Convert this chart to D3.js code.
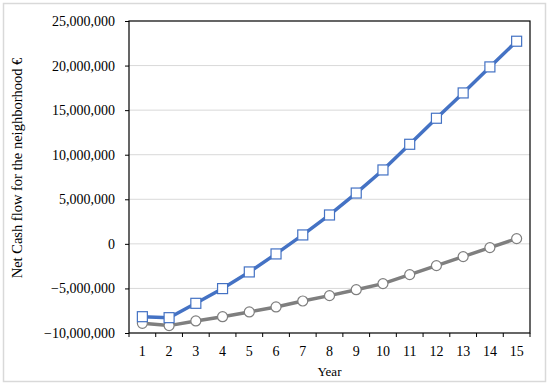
<!DOCTYPE html>
<html>
<head>
<meta charset="utf-8">
<script src="https://cdn.jsdelivr.net/npm/d3@7"></script>
<style>
  body { margin: 0; background: #fff; }
  text { font-family: "Liberation Serif", "DejaVu Serif", serif; fill: #000; }
</style>
</head>
<body>
<svg width="550" height="387"></svg>
<script>
let years = [1, 2, 3, 4, 5, 6, 7, 8, 9, 10, 11, 12, 13, 14, 15];
let blueSeries = [-8.17, -8.28, -6.67, -5.02, -3.15, -1.13, 1.0, 3.24, 5.7, 8.29, 11.17, 14.09, 16.93, 19.85, 22.73].map(v => v * 1e6);
let graySeries = [-8.91, -9.17, -8.65, -8.17, -7.64, -7.08, -6.41, -5.81, -5.14, -4.46, -3.45, -2.44, -1.43, -0.42, 0.59].map(v => v * 1e6);
let yTicks = [-10e6, -5e6, 0, 5e6, 10e6, 15e6, 20e6, 25e6];

let svg = d3.select("svg"),
    width = +svg.attr("width"),
    height = +svg.attr("height");

// outer frame
svg.append("rect")
  .attr("x", 3.5).attr("y", 3.5)
  .attr("width", 542).attr("height", 378)
  .attr("fill", "none")
  .attr("stroke", "#d9d9d9")
  .attr("stroke-width", 1.5);

const mLeft = 129, mRight = 530, mTop = 21, mBottom = 333;

let x = d3.scaleBand().domain(years).range([mLeft, mRight]);
let y = d3.scaleLinear().domain([-10e6, 25e6]).range([mBottom, mTop]);

// gridlines
svg.append("g")
  .selectAll("line")
  .data(yTicks.slice(1, -1))
  .enter().append("line")
  .attr("x1", mLeft).attr("x2", mRight)
  .attr("y1", d => y(d)).attr("y2", d => y(d))
  .style("stroke", "#d9d9d9")
  .style("stroke-width", 1);

// y axis
let yAxis = svg.append("g")
  .attr("transform", `translate(${mLeft},0)`)
  .call(d3.axisLeft(y).tickValues(yTicks).tickSize(4).tickPadding(10)
    .tickFormat(d3.format(",")));
yAxis.select(".domain").remove();
yAxis.selectAll(".tick line").style("stroke", "#000");
yAxis.selectAll("text").style("font-size", "14px");

// x axis: ticks on band boundaries
let xAxis = svg.append("g")
  .attr("transform", `translate(0,${mBottom})`)
  .call(d3.axisBottom(x).tickSize(0).tickPadding(13));
xAxis.select(".domain").remove();
xAxis.selectAll("text").style("font-size", "14px");
svg.append("g")
  .selectAll("line")
  .data(years.concat([16]))
  .enter().append("line")
  .attr("x1", (d, i) => mLeft + i * x.step())
  .attr("x2", (d, i) => mLeft + i * x.step())
  .attr("y1", mBottom).attr("y2", mBottom + 4)
  .style("stroke", "#000");

// plot box
svg.append("rect")
  .attr("x", mLeft).attr("y", mTop)
  .attr("width", mRight - mLeft).attr("height", mBottom - mTop)
  .attr("fill", "none")
  .attr("stroke", "#000")
  .attr("stroke-width", 1.2);

let cx = d => x(d) + x.bandwidth() / 2;

let line = d3.line()
  .x((d, i) => cx(years[i]))
  .y(d => y(d));

svg.append("path")
  .datum(graySeries)
  .attr("d", line)
  .attr("fill", "none")
  .attr("stroke", "#7f7f7f")
  .attr("stroke-width", 3.5);

svg.append("path")
  .datum(blueSeries)
  .attr("d", line)
  .attr("fill", "none")
  .attr("stroke", "#4472c4")
  .attr("stroke-width", 3.5);

svg.append("g")
  .selectAll("circle")
  .data(graySeries)
  .enter().append("circle")
  .attr("cx", (d, i) => cx(years[i]))
  .attr("cy", d => y(d))
  .attr("r", 5)
  .attr("fill", "#fff")
  .attr("stroke", "#7f7f7f")
  .attr("stroke-width", 1.2);

const S = 10;
svg.append("g")
  .selectAll("rect")
  .data(blueSeries)
  .enter().append("rect")
  .attr("x", (d, i) => cx(years[i]) - S / 2)
  .attr("y", d => y(d) - S / 2)
  .attr("width", S).attr("height", S)
  .attr("fill", "#fff")
  .attr("stroke", "#4472c4")
  .attr("stroke-width", 1.2);

// axis titles
svg.append("text")
  .attr("x", (mLeft + mRight) / 2)
  .attr("y", 376)
  .attr("text-anchor", "middle")
  .style("font-size", "13px")
  .text("Year");

svg.append("text")
  .attr("transform", `translate(22,168) rotate(-90)`)
  .attr("text-anchor", "middle")
  .style("font-size", "14.5px")
  .text("Net Cash flow for the neighborhood €");
</script>
</body>
</html>
